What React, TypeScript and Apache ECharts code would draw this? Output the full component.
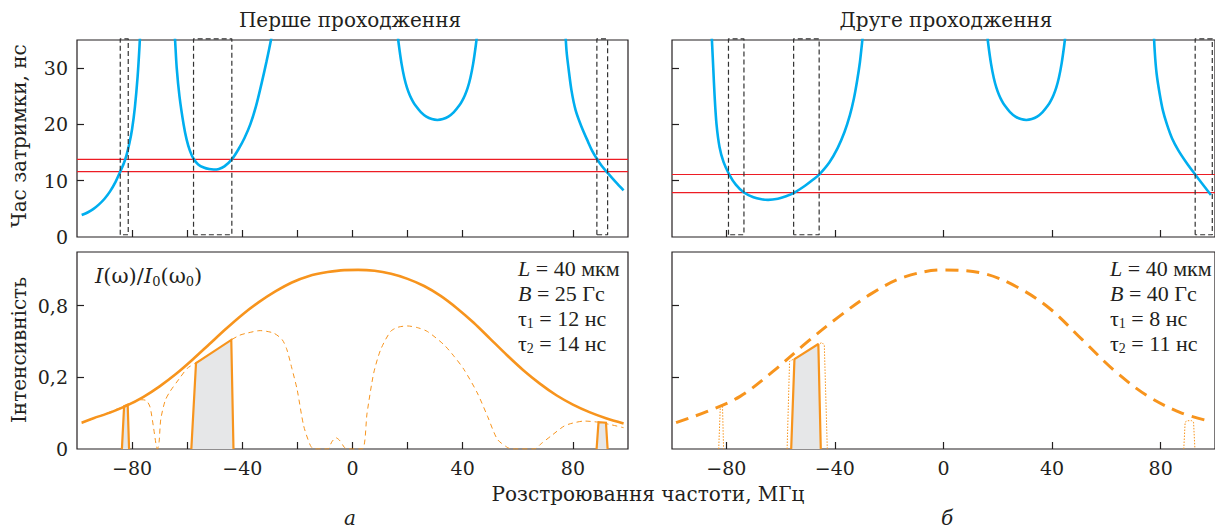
import React, { useEffect, useRef } from "react";
import * as echarts from "echarts";

// ---------- data ----------
const xTickValuesLeft = [-80, -60, -40, -20, 0, 20, 40, 80];
const xTickValuesRight = [-80, -40, 0, 40, 80];
const xLabelValues = [-80, -40, 0, 40, 80];
const xLabelTexts = ["−80", "−40", "0", "40", "80"];
const delayTickValues = [0, 10, 20, 30];
const delayTickLabels = ["0", "10", "20", "30"];
const intensityTickValues = [0, 0.4, 0.8];
const intensityTickLabels = ["0", "0,2", "0,8"];

// top-left: delay time, first pass
const delayL1 = [[-98.3, 3.9], [-96, 4.4], [-94, 5.0], [-92, 5.8], [-90, 6.8], [-88, 8.1], [-86, 9.8], [-84.5, 11.4], [-83, 13.1], [-82, 14.6], [-81, 16.6], [-80, 19.2], [-79, 23], [-78, 28.5], [-77.3, 34], [-76.8, 39]];
const delayL2 = [[-64.8, 38], [-64.4, 35], [-63.8, 30], [-62.8, 25], [-61.3, 20], [-60.2, 17.3], [-59, 15.3], [-57.7, 13.9], [-56, 12.9], [-54, 12.35], [-52, 12.07], [-50.4, 12.0], [-48.5, 12.1], [-46.5, 12.55], [-43.8, 13.8], [-41.5, 15.5], [-39.2, 17.6], [-37.1, 20], [-35, 23.3], [-33, 27.3], [-31.2, 31.2], [-29.6, 35], [-29, 36.8]];
const delayL3 = [[16.2, 36.8], [16.8, 34.2], [17.8, 30.8], [18.8, 28.3], [19.8, 26.5], [20.8, 25.2], [21.8, 24.2], [22.8, 23.4], [24.8, 22.2], [26.8, 21.4], [28.8, 20.95], [30.8, 20.8], [32.8, 20.95], [34.8, 21.4], [36.8, 22.2], [38.8, 23.4], [39.8, 24.2], [40.8, 25.2], [41.8, 26.5], [42.8, 28.3], [43.8, 30.8], [44.8, 34.2], [45.4, 36.8]];
const delayL4 = [[77.2, 37], [77.7, 33], [78.4, 30], [79.5, 26], [81, 22.5], [83.2, 19.5], [85.5, 16.9], [87, 15.3], [88.7, 13.9], [90.5, 12.6], [92.6, 11.4], [95.5, 9.8], [98.4, 8.3]];
const tauLeft = [11.6, 13.8];
const boxesLeft = [[-84.3, -81.4], [-57.7, -43.8], [88.7, 92.6]];

// top-right: delay time, second pass
const delayR1 = [[-85.6, 38], [-85.2, 34], [-84.8, 30], [-84.3, 25], [-83.6, 20], [-82.5, 16], [-81, 13.3], [-78.9, 11.1], [-76.5, 9.3], [-73.5, 7.9], [-70, 7.05], [-67, 6.7], [-64.6, 6.6], [-61, 6.8], [-58, 7.25], [-54.9, 7.9], [-51, 9.1], [-48, 10.2], [-45.8, 11.1], [-42, 13.3], [-39, 15.8], [-36.5, 18.6], [-34.5, 21.6], [-33, 24.6], [-31.8, 27.8], [-30.8, 31], [-30, 34.5], [-29.5, 37]];
const delayR2 = [[15.9, 36.8], [16.5, 34.2], [17.5, 30.8], [18.5, 28.3], [19.5, 26.5], [20.5, 25.2], [21.5, 24.2], [22.5, 23.4], [24.5, 22.2], [26.5, 21.4], [28.5, 20.95], [30.5, 20.8], [32.5, 20.95], [34.5, 21.4], [36.5, 22.2], [38.5, 23.4], [39.5, 24.2], [40.5, 25.2], [41.5, 26.5], [42.5, 28.3], [43.5, 30.8], [44.5, 34.2], [45.1, 36.8]];
const delayR3 = [[77.3, 38], [77.8, 33], [78.5, 29], [79.6, 25.5], [80.8, 22.5], [82.3, 20], [84.2, 17.5], [86.5, 15.4], [89.5, 13.2], [92.7, 11.1], [95.3, 9.45], [97.8, 7.9], [98.5, 7.5]];
const tauRight = [7.9, 11.1];
const boxesRight = [[-79.2, -73.5], [-55.2, -45.8], [92.7, 99]];
const boxSpan = [0.4, 35.2];

// bottom-left: intensity, first pass
const inputSpectrumL = [[-98.3, 0.147], [-94, 0.172], [-88, 0.203], [-82, 0.242], [-76, 0.29], [-70, 0.35], [-64, 0.42], [-58, 0.5], [-52, 0.585], [-46, 0.67], [-40, 0.75], [-34, 0.82], [-28, 0.88], [-22, 0.93], [-16, 0.965], [-9, 0.988], [-3, 0.999], [2, 1.0], [8, 0.995], [14, 0.978], [20, 0.95], [26, 0.91], [32, 0.855], [38, 0.785], [44, 0.705], [50, 0.615], [56, 0.525], [62, 0.44], [68, 0.365], [74, 0.3], [80, 0.248], [86, 0.206], [92, 0.172], [98.4, 0.143]];
const passedSpectrumL = [[-98.3, 0.145], [-94, 0.17], [-90, 0.195], [-86, 0.22], [-82, 0.245], [-79, 0.265], [-76.5, 0.275], [-74.8, 0.27], [-73.5, 0.235], [-72.3, 0.128], [-71.3, 0.025], [-70.8, 0.0], [-70.2, 0.04], [-69.6, 0.165], [-68, 0.27], [-66.2, 0.322], [-63, 0.39], [-60, 0.45], [-57, 0.48], [-50, 0.545], [-44, 0.609], [-41, 0.635], [-38.3, 0.647], [-33.5, 0.661], [-28.6, 0.647], [-25.5, 0.61], [-23.8, 0.554], [-22, 0.45], [-20.1, 0.332], [-17.7, 0.128], [-15.3, 0.02], [-14, 0], [-9, 0], [-7.5, 0.04], [-6, 0.063], [-4.5, 0.045], [-3, 0.01], [-2, 0], [3.5, 0], [5.3, 0.202], [7.7, 0.424], [10.2, 0.554], [13.8, 0.656], [16.5, 0.68], [19.9, 0.687], [23.5, 0.678], [27.2, 0.656], [33.2, 0.582], [37, 0.515], [40.5, 0.443], [45.3, 0.313], [49, 0.183], [52.6, 0.054], [56.3, 0.008], [58, 0], [66, 0], [68.5, 0.03], [72, 0.072], [76.8, 0.128], [80, 0.145], [84.1, 0.156], [89, 0.15], [94, 0.135], [98.4, 0.119]];
const selectedL = [
  [[-83.7, 0], [-82.9, 0.239], [-81.6, 0.248], [-81.1, 0]],
  [[-58.5, 0], [-56.8, 0.48], [-44, 0.609], [-43.2, 0]],
  [[88.6, 0], [89.3, 0.15], [92, 0.147], [92.6, 0]],
];

// bottom-right: intensity, second pass
const inputSpectrumR = [[-98.5, 0.147], [-87, 0.21], [-74.9, 0.294], [-62.8, 0.433], [-50.7, 0.591], [-38.5, 0.739], [-26.4, 0.869], [-14.3, 0.961], [0, 1.0], [14.8, 0.98], [26.9, 0.906], [39, 0.786], [51.2, 0.609], [63.3, 0.433], [75.4, 0.294], [87.5, 0.202], [97.8, 0.156]];
const selectedR = [[-56.1, 0], [-54.9, 0.502], [-46.1, 0.586], [-45.2, 0]];
const firstPassOutlinesR = [
  [[-82.8, 0], [-82.2, 0.239], [-81.4, 0.239], [-81, 0]],
  [[-57.6, 0], [-56.7, 0.489], [-44.8, 0.595], [-43.9, 0.58], [-42.8, 0]],
  [[88.5, 0], [89, 0.15], [89.8, 0.158], [91.4, 0.158], [92.1, 0.15], [92.6, 0]],
];

const paramsLeft = ["{i|L} = 40 мкм", "{i|B} = 25 Гс", "τ{s|1} = 12 нс", "τ{s|2} = 14 нс"];
const paramsRight = ["{i|L} = 40 мкм", "{i|B} = 40 Гс", "τ{s|1} = 8 нс", "τ{s|2} = 11 нс"];

// ---------- styling ----------
const FONT = '"DejaVu Serif", serif';
const MATH = '"Liberation Serif", serif';
const INK = "#231f20";
const BLUE = "#00aeef";
const ORANGE = "#f7941d";
const RED = "#ed1c24";
const GRAY = "#e6e7e8";
const FS = 19;

function buildOption() {
  const gridBase = { show: true, borderColor: INK, borderWidth: 1.2, backgroundColor: "transparent", containLabel: false };
  const grids = [
    { ...gridBase, left: 77, top: 40, width: 551, height: 197 },
    { ...gridBase, left: 77, top: 252, width: 551, height: 197 },
    { ...gridBase, left: 672, top: 40, width: 550, height: 197 },
    { ...gridBase, left: 672, top: 252, width: 550, height: 197 },
  ];
  const labelStyle = { fontFamily: FONT, fontSize: FS, color: INK };
  const xAxis = (gi: number, ticks: number[], showLabel: boolean) => ({
    type: "value", gridIndex: gi, min: -100, max: 100, position: "bottom",
    axisLine: { show: false, onZero: false }, splitLine: { show: false },
    axisTick: { show: true, inside: true, length: 7, lineStyle: { color: INK, width: 1.2 }, customValues: ticks },
    axisLabel: {
      show: showLabel, ...labelStyle, margin: 9, customValues: xLabelValues,
      formatter: (v: number) => xLabelTexts[xLabelValues.indexOf(v)] ?? "",
    },
  });
  const yAxis = (gi: number, kind: "delay" | "int", showLabel: boolean) => {
    const vals = kind === "delay" ? delayTickValues : intensityTickValues;
    const labs = kind === "delay" ? delayTickLabels : intensityTickLabels;
    return {
      type: "value", gridIndex: gi, min: 0, max: kind === "delay" ? 35 : 1.1, position: "left",
      axisLine: { show: false, onZero: false }, splitLine: { show: false },
      axisTick: { show: true, inside: true, length: 7, lineStyle: { color: INK, width: 1.2 }, customValues: vals.slice(1) },
      axisLabel: {
        show: showLabel, ...labelStyle, margin: 9, customValues: vals,
        formatter: (v: number) => labs[vals.indexOf(v)] ?? "",
      },
    };
  };

  const series: any[] = [];
  const line = (gi: number, data: number[][], lineStyle: any, extra: any = {}) => {
    series.push({
      type: "line", xAxisIndex: gi, yAxisIndex: gi, data, symbol: "none",
      lineStyle, silent: true, ...extra,
    });
  };

  // top panels
  const topPanel = (gi: number, segs: number[][][], taus: number[], boxes: number[][]) => {
    taus.forEach((t) => line(gi, [[-100, t], [100, t]], { color: RED, width: 1.2 }));
    segs.forEach((s) => line(gi, s, { color: BLUE, width: 2.6 }, { smooth: 0.3 }));
    boxes.forEach(([a, b]) =>
      line(gi, [[a, boxSpan[0]], [a, boxSpan[1]], [b, boxSpan[1]], [b, boxSpan[0]], [a, boxSpan[0]]],
        { color: "#333", width: 1.2, type: [5, 3] }, { clip: false }));
  };
  topPanel(0, [delayL1, delayL2, delayL3, delayL4], tauLeft, boxesLeft);
  topPanel(2, [delayR1, delayR2, delayR3], tauRight, boxesRight);

  // bottom-left
  selectedL.forEach((p) =>
    line(1, p, { color: ORANGE, width: 2.2, join: "miter" }, { areaStyle: { color: GRAY, opacity: 1 }, z: 3 }));
  line(1, passedSpectrumL, { color: ORANGE, width: 1, type: [5, 4] }, { smooth: 0.25, z: 2 });
  line(1, inputSpectrumL, { color: ORANGE, width: 2.6 }, { smooth: 0.3, z: 4 });

  // bottom-right
  line(3, selectedR, { color: ORANGE, width: 2.2 }, { areaStyle: { color: GRAY, opacity: 1 }, z: 3 });
  firstPassOutlinesR.forEach((p) => line(3, p, { color: ORANGE, width: 1, type: [1.5, 1.5] }, { z: 2 }));
  line(3, inputSpectrumR, { color: ORANGE, width: 3, type: [13, 8] }, { smooth: 0.35, z: 4 });

  const txt = (x: number, y: number, text: string, extra: any = {}, elExtra: any = {}) => ({
    type: "text", x, y, silent: true, ...elExtra,
    style: { text, fontFamily: FONT, fontSize: 20, fill: INK, align: "center", verticalAlign: "middle", ...extra },
  });
  const richFor = (family: string, size: number, subSize: number, drop: number) => ({
    i: { fontStyle: "italic", fontFamily: family, fontSize: size, fill: INK },
    s: { fontSize: subSize, fontFamily: family, fill: INK, verticalAlign: "middle", padding: [drop * 2, 0, 0, 0] },
  });
  const graphic: any[] = [
    txt(350, 20, "Перше проходження"),
    txt(946, 20, "Друге проходження"),
    txt(19, 136, "Час затримки, нс", {}, { rotation: Math.PI / 2 }),
    txt(19, 350, "Інтенсивність", {}, { rotation: Math.PI / 2 }),
    txt(648, 494, "Розстроювання частоти, МГц"),
    txt(350, 518, "а", { fontStyle: "italic" }),
    txt(947, 518, "б", { fontStyle: "italic" }),
    txt(95, 276, "{i|I}(ω)/{i|I}{s|0}(ω{s|0})", { align: "left", fontSize: 21, rich: richFor(FONT, 21, 13, 5) }),
  ];
  const lineYs = [268, 293, 318, 343];
  const pRich = richFor(MATH, 22, 14, 5);
  paramsLeft.forEach((t, k) => graphic.push(txt(518, lineYs[k], t, { align: "left", fontFamily: MATH, fontSize: 22, rich: pRich })));
  paramsRight.forEach((t, k) => graphic.push(txt(1110, lineYs[k], t, { align: "left", fontFamily: MATH, fontSize: 22, rich: pRich })));

  return {
    animation: false,
    backgroundColor: "#ffffff",
    grid: grids,
    xAxis: [xAxis(0, xTickValuesLeft, false), xAxis(1, xTickValuesLeft, true), xAxis(2, xTickValuesRight, false), xAxis(3, xTickValuesRight, true)],
    yAxis: [yAxis(0, "delay", true), yAxis(1, "int", true), yAxis(2, "delay", false), yAxis(3, "int", false)],
    series,
    graphic,
  };
}

export default function App() {
  const ref = useRef<HTMLDivElement>(null);
  useEffect(() => {
    const chart = echarts.init(ref.current!, null, { renderer: "svg" });
    chart.setOption(buildOption() as any);
    return () => chart.dispose();
  }, []);
  return <div ref={ref} style={{ position: "absolute", left: 0, top: 0, width: 1215, height: 530 }} />;
}
